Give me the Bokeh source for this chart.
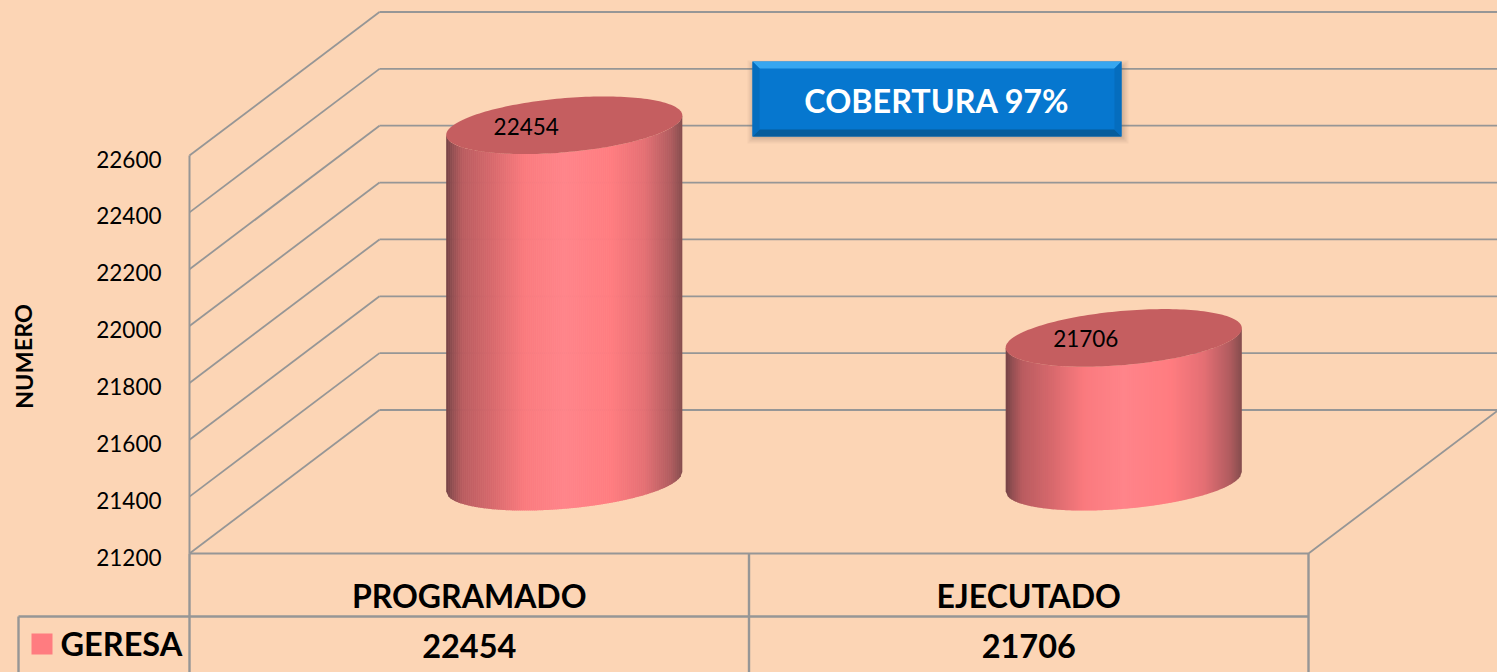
import math
import numpy as np
from bokeh.core.properties import value
from bokeh.embed import file_html
from bokeh.models import FixedTicker, LinearAxis, Range1d
from bokeh.plotting import figure
from bokeh.resources import INLINE

categories = ["PROGRAMADO", "EJECUTADO"]
values = [22454, 21706]
ticks = [21200, 21400, 21600, 21800, 22000, 22200, 22400, 22600]
series_name = "GERESA"
axis_title = "NUMERO"
note = "COBERTURA 97%"

BG = "#FCD5B5"
GRID = "#969696"
FONT = value("Lato")
# page pixel <-> value scale
Y0, K = 553.0, 398.0 / 1400.0
def V(py):  # page pixel y to value
    return ticks[0] + (Y0 - py) / K
DX, DY = 190.0, 143.5 / K   # depth of the floor
XL, CW = 189.0, 559.5        # plot left, category width

p = figure(width=1497, height=672, output_backend="svg", toolbar_location=None,
           x_range=Range1d(0, 1497), y_range=Range1d(V(672), V(0)),
           min_border=0, background_fill_color=BG, border_fill_color=BG,
           outline_line_color=None, x_axis_type=None, y_axis_type=None)
p.grid.visible = False
p.extra_y_ranges["labels"] = Range1d(V(672) + 3.5 / K, V(0) + 3.5 / K)

axis = LinearAxis(fixed_location=XL, ticker=FixedTicker(ticks=ticks), y_range_name="labels",
                  axis_line_color=None, major_tick_line_color=None, minor_tick_line_color=None,
                  major_label_standoff=22, major_label_text_font="Lato",
                  major_label_text_font_size="22.5px", major_label_text_color="#000000")
p.add_layout(axis, "left")
axis_line = LinearAxis(fixed_location=XL, ticker=FixedTicker(ticks=ticks), bounds=(ticks[0], ticks[-1]),
                       axis_line_color=GRID, axis_line_width=2, major_label_text_color=None,
                       major_tick_line_color=None, minor_tick_line_color=None)
p.add_layout(axis_line, "left")

# walls and floor
XR = XL + CW * len(categories)
for t in ticks:
    p.line([XL, XL + DX], [t, t + DY], line_color=GRID, line_width=1.8)
    p.line([XL + DX, XR + DX + 10], [t + DY, t + DY], line_color=GRID, line_width=1.8)
p.line([XL, XR, XR + DX], [ticks[0], ticks[0], ticks[0] + DY], line_color=GRID, line_width=1.8)

# data table
TBOT, TMID = V(672), V(616)
for x in [XL + i * CW for i in range(len(categories) + 1)]:
    p.line([x, x], [ticks[0], TBOT], line_color=GRID, line_width=2.4)
p.line([18, 18], [TMID, TBOT], line_color=GRID, line_width=2.4)
p.line([18, XR], [TMID, TMID], line_color=GRID, line_width=2.4)
p.quad(left=[31], right=[52], top=[V(633)], bottom=[V(654)], fill_color="#FF7C80", line_color=None)
p.text([60], [V(643)], text=[series_name], text_font=FONT, text_font_style="bold",
       text_font_size="32.5px", text_baseline="middle", text_align="left", text_color="#000000")
for i, (c, v) in enumerate(zip(categories, values)):
    xc = XL + CW * (i + 0.5)
    p.text([xc], [V(595)], text=[c], text_font=FONT, text_font_style="bold", text_font_size="32px",
           text_baseline="middle", text_align="center", text_color="#000000")
    p.text([xc], [V(645)], text=[str(v)], text_font=FONT, text_font_style="bold", text_font_size="32.5px",
           text_baseline="middle", text_align="center", text_color="#000000")

# axis title
p.text([23], [V(356)], text=[axis_title], angle=[math.pi / 2], text_font=FONT, text_font_style="bold",
       text_font_size="23.5px", text_baseline="middle", text_align="center", text_color="#000000")

# cylinders
A, B, TH = 118.5, 27.0, math.radians(5.0)
t0 = math.atan2(-B * math.sin(TH), A * math.cos(TH)) + math.pi
ts = np.linspace(t0, t0 + math.pi, 300)
ex = A * np.cos(ts) * math.cos(TH) - B * np.sin(ts) * math.sin(TH)
ey = A * np.cos(ts) * math.sin(TH) + B * np.sin(ts) * math.cos(TH)
order = np.argsort(ex)
ex_s, ey_s = ex[order], ey[order]
stops_f = [0, .03, .07, .19, .33, .50, .70, .84, .95, 1]
stops_c = [(0x74, 0x42, 0x45), (0x96, 0x50, 0x53), (0xBA, 0x5C, 0x60), (0xD6, 0x68, 0x6C),
           (0xFA, 0x7A, 0x7E), (0xFF, 0x84, 0x8A), (0xFF, 0x7C, 0x80), (0xE4, 0x6F, 0x74),
           (0xB0, 0x5C, 0x5F), (0x84, 0x4C, 0x4D)]
def shade(f):
    return "#%02X%02X%02X" % tuple(int(round(np.interp(f, stops_f, [c[k] for c in stops_c]))) for k in range(3))

all_t = np.linspace(0, 2 * math.pi, 180)
top_x = A * np.cos(all_t) * math.cos(TH) - B * np.sin(all_t) * math.sin(TH)
top_y = A * np.cos(all_t) * math.sin(TH) + B * np.sin(all_t) * math.cos(TH)
XM = float(ex_s[-1])
edges = np.arange(-XM, XM + 0.01, 2.0)
for i, v in enumerate(values):
    cx = XL + CW * (i + 0.5) + DX / 2
    top_c, bot_c = v + DY / 2, ticks[0] + DY / 2
    xs, ys, cols = [], [], []
    for e0 in edges[:-1]:
        e1 = min(e0 + 2.6, XM)
        sx = np.array([e0, e1])
        low = np.interp(sx, ex_s, ey_s) / K
        xs.append([cx + e0, cx + e1, cx + e1, cx + e0])
        ys.append([top_c + low[0], top_c + low[1], bot_c + low[1], bot_c + low[0]])
        cols.append(shade((e0 + 1 + XM) / (2 * XM)))
    p.patches(xs, ys, fill_color=cols, line_color=None)
    p.patch(cx + top_x, top_c + top_y / K, fill_color="#C55E60", line_color=None)
    p.text([cx - 38], [v + DY / 2 - 1 / K], text=[str(v)], text_font=FONT, text_font_size="22.5px",
           text_baseline="middle", text_align="center", text_color="#000000")

# coverage box
L, R, T, Bo = 752, 1121, 61, 136
bev = 7
for grow, alpha in [(7, 0.06), (5, 0.08), (3, 0.10), (1, 0.12)]:
    p.quad(left=[L - grow + 2], right=[R + grow], top=[V(T + 6 - grow)], bottom=[V(Bo + grow)],
           fill_color="#6A5A4A", fill_alpha=alpha, line_color=None)
p.quad(left=[L], right=[R], top=[V(T)], bottom=[V(Bo)], fill_color="#0677CF", line_color=None)
p.patch([L, R, R - bev, L + bev], [V(T), V(T), V(T + bev), V(T + bev)], fill_color="#36A6F0", line_color=None)
p.patch([L, R, R - bev, L + bev], [V(Bo), V(Bo), V(Bo - bev), V(Bo - bev)], fill_color="#055C9C", line_color=None)
p.patch([L, L + bev, L + bev, L], [V(T), V(T + bev), V(Bo - bev), V(Bo)], fill_color="#056DBE", line_color=None)
p.patch([R, R - bev, R - bev, R], [V(T), V(T + bev), V(Bo - bev), V(Bo)], fill_color="#056DBE", line_color=None)
p.text([(L + R) / 2], [V(100)], text=[note], text_font=FONT, text_font_style="bold", text_font_size="32.3px",
       text_baseline="middle", text_align="center", text_color="#FFFFFF")

html = file_html(p, INLINE)
html = html.replace("</head>", "<style>html,body{background:#FCD5B5;overflow:hidden}</style></head>", 1)
open("out.html", "w").write(html)
